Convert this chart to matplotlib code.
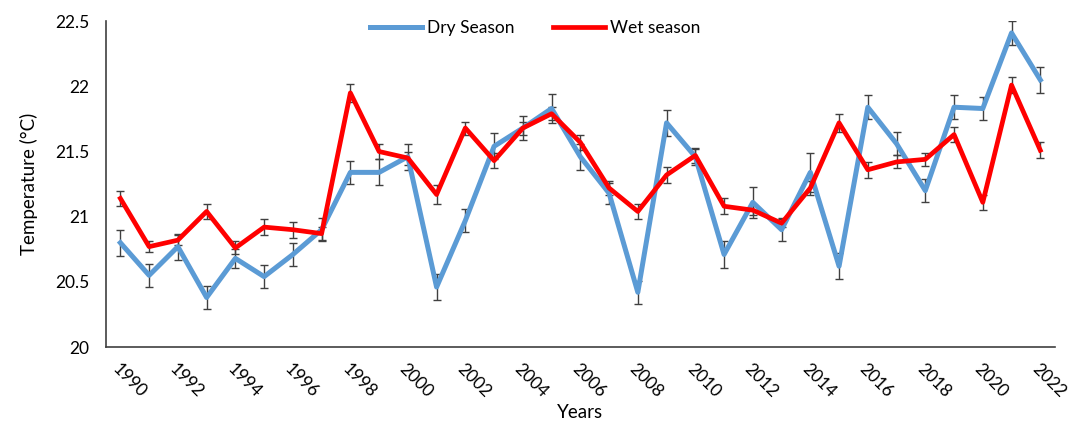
import matplotlib
matplotlib.use("Agg")
import matplotlib.pyplot as plt
import numpy as np

plt.rcParams['font.family'] = ['Lato', 'DejaVu Sans']

years = list(range(1990, 2023))
dry = [20.80, 20.55, 20.77, 20.38, 20.68, 20.54, 20.71, 20.90, 21.34, 21.34, 21.46,
       20.46, 20.97, 21.54, 21.68, 21.83, 21.46, 21.18, 20.42, 21.72, 21.46, 20.71,
       21.11, 20.90, 21.34, 20.62, 21.84, 21.56, 21.20, 21.84, 21.83, 22.41, 22.05]
wet = [21.14, 20.77, 20.82, 21.04, 20.76, 20.92, 20.90, 20.87, 21.95, 21.50, 21.45,
       21.17, 21.68, 21.43, 21.68, 21.79, 21.57, 21.22, 21.04, 21.32, 21.47, 21.08,
       21.05, 20.95, 21.22, 21.72, 21.36, 21.42, 21.44, 21.63, 21.11, 22.01, 21.51]
dry_err = [0.10, 0.09, 0.10, 0.09, 0.07, 0.09, 0.09, 0.09, 0.09, 0.10, 0.10,
           0.10, 0.09, 0.10, 0.09, 0.11, 0.10, 0.08, 0.09, 0.10, 0.06, 0.10,
           0.12, 0.09, 0.15, 0.10, 0.09, 0.09, 0.09, 0.09, 0.09, 0.09, 0.10]
wet_err = [0.06, 0.04, 0.04, 0.06, 0.05, 0.06, 0.06, 0.05, 0.07, 0.06, 0.05,
           0.07, 0.05, 0.06, 0.05, 0.05, 0.06, 0.05, 0.06, 0.06, 0.06, 0.06,
           0.04, 0.03, 0.05, 0.07, 0.06, 0.05, 0.05, 0.06, 0.06, 0.06, 0.06]
series_names = ["Dry Season", "Wet season"]
yticks = [20, 20.5, 21, 21.5, 22, 22.5]
ytick_labels = ["20", "20.5", "21", "21.5", "22", "22.5"]

fig = plt.figure(figsize=(10.74, 4.24), dpi=100)
ax = fig.add_axes([0.0987, 0.1816, 0.8833, 0.7684])

ecol = '#404040'
ax.errorbar(years, dry, yerr=dry_err, fmt='none', ecolor=ecol, elinewidth=1.0,
            capsize=3, capthick=1.0, zorder=1)
ax.errorbar(years, wet, yerr=wet_err, fmt='none', ecolor=ecol, elinewidth=1.0,
            capsize=3, capthick=1.0, zorder=1)
l1, = ax.plot(years, dry, color='#5B9BD5', lw=3.6, label=series_names[0], zorder=2,
              solid_joinstyle='round')
l2, = ax.plot(years, wet, color='#FF0000', lw=3.4, label=series_names[1], zorder=3,
              solid_joinstyle='round')

ax.set_xlim(1989.5, 2022.5)
ax.set_ylim(20, 22.5)
ax.set_yticks(yticks)
ax.set_yticklabels(ytick_labels)
ax.set_xticks(years[::2])
ax.set_xticklabels([str(y) for y in years[::2]], rotation=-45, ha='left', va='top',
                   rotation_mode='anchor')
ax.tick_params(axis='both', length=0, labelsize=12.5, colors='#404040', labelcolor='black')
ax.tick_params(axis='y', pad=12)
ax.tick_params(axis='x', pad=10)

for s in ['top', 'right']:
    ax.spines[s].set_visible(False)
for s in ['left', 'bottom']:
    ax.spines[s].set_color('#404040')
    ax.spines[s].set_linewidth(1.2)

ax.set_ylabel("Temperature (°C)", fontsize=13.5, labelpad=12)
ax.set_xlabel("Years", fontsize=13.5, labelpad=2)

fig.legend(handles=[l1, l2], loc='center', bbox_to_anchor=(0.498, 0.934), ncol=2,
           frameon=False, fontsize=12.5, handlelength=3.0, handletextpad=0.3,
           columnspacing=2.2)

fig.savefig("out.png", dpi=100)
